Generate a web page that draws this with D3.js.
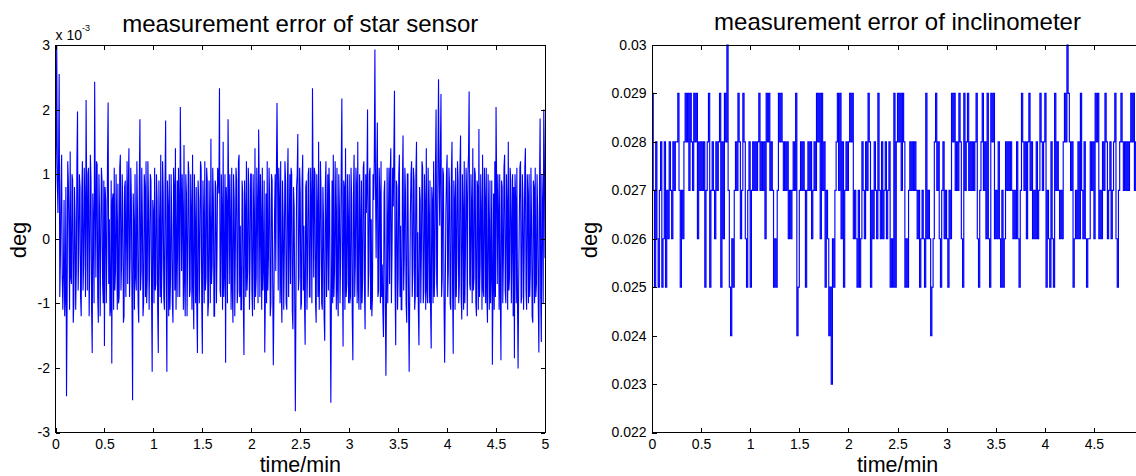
<!DOCTYPE html>
<html><head><meta charset="utf-8">
<script src="https://cdn.jsdelivr.net/npm/d3@7"></script>
<style>
body{margin:0;background:#fff;}
svg{display:block;}
text{font-family:Arial,"Liberation Sans",Helvetica,sans-serif;fill:#000;}
</style>
</head><body>
<svg id="c" width="1136" height="476"></svg>
<script>
// ---------------- data ----------------
const timeEnd = 5; // minutes
const xTicks = [0, 0.5, 1, 1.5, 2, 2.5, 3, 3.5, 4, 4.5, 5];
const xTickLabels = ["0", "0.5", "1", "1.5", "2", "2.5", "3", "3.5", "4", "4.5", "5"];

// star sensor error, in units of 1e-3 deg
const starYTicks = [-3, -2, -1, 0, 1, 2, 3];
const starYTickLabels = ["-3", "-2", "-1", "0", "1", "2", "3"];
const starErr = [
 0.7, 1.5, 3.0, 0.9, 0.4, 1.2, 2.55, -0.9, -0.3, 0.8, 1.3, -0.6, -1.1, -0.5, 0.6, -1.2, -0.9, 0.8, -2.44, -1.0, 1.2, 0.9, 0.1, -1.1, 1.35, -0.6, -0.7, 1.0, 0.9, -1.3, -1.0, 0.8, 0.3, -1.1, -0.5, 1.2, 1.97, -0.8, -0.2, 1.0,
 0.8, -0.9, -1.2, 0.7, 1.2, -0.8, -0.4, 1.1, 0.5, -0.9, 2.15, 0.6, -0.8, 1.0, 1.1, -1.2, -0.3, 1.3, 0.9, -1.1, -1.77, 0.7, 0.2, -1.0, 2.43, 0.6, -0.6, 1.2, 1.15, -0.9, -1.3, 1.0, 0.4, -1.2, -0.1, 1.1, 0.9, -0.7, -1.0, 0.9,
 -1.66, 0.8, 0.6, -1.0, -0.2, 1.2, 2.11, -0.7, 0.3, -1.2, -1.1, 0.9, -1.93, 0.6, 0.7, -1.1, 1.1, -0.8, -0.5, 1.0, 0.2, -1.1, 0.85, -1.0, -0.9, 1.1, 1.3, -0.8, -0.4, 1.0, 0.5, -1.3, -1.2, 0.8, 0.9, -0.9, 0.1, 1.2, -0.7, 0.8,
 1.4, -0.9, -0.3, 1.1, 0.6, -1.0, -2.5, 0.7, 0.2, -1.1, 1.0, -0.6, -0.8, 1.2, 0.4, -1.0, -1.3, 0.9, 1.85, -0.8, -0.5, 1.1, 0.3, -1.2, -1.0, 1.0, 0.8, -0.9, 1.2, -1.0, -0.6, 1.2, 0.5, -1.1, -0.2, 1.0, 0.9, -0.9, -2.06, 0.6,
 0.4, -1.0, 1.1, -0.8, -0.7, 1.0, 0.6, -1.1, -1.77, 0.9, 0.1, -0.9, 1.3, -1.0, -0.4, 1.2, 0.7, -0.9, -1.1, 0.8, 1.83, -0.7, -2.06, 0.9, 0.5, -1.2, 1.0, -1.1, -0.6, 1.0, 0.2, -1.0, -1.3, 1.1, 0.8, -0.8, 1.4, -1.1, -0.2, 0.9,
 -0.9, 1.1, 0.5, -0.9, 2.04, 0.8, -0.5, 1.0, 0.3, -1.1, 1.45, -0.7, -1.2, 1.0, 0.7, -1.2, -0.3, 1.2, 1.0, -0.9, -0.8, 1.0, 0.4, -1.1, 1.3, -0.8, -1.4, 1.0, 0.2, -1.0, 0.8, -1.1, -1.77, 0.9, 0.6, -1.0, -0.1, 1.2, 1.1, -1.0,
 -1.78, 0.9, 0.3, -1.0, 1.2, -0.8, -0.6, 1.1, 0.9, -1.2, -1.0, 0.9, 0.1, -1.0, 1.55, -0.7, -0.4, 1.1, 0.6, -1.2, -1.2, 0.9, 0.8, -1.0, -0.2, 1.1, 1.0, 0.7, 2.33, -0.8, -0.9, 1.0, 0.4, -1.1, 1.5, -0.9, -0.5, 1.0, -1.92, 0.8,
 0.5, -1.0, 1.85, 0.8, -0.7, 1.0, 0.2, -1.1, 1.1, -0.8, -1.3, 1.0, 0.6, -1.2, -0.1, 1.1, 0.9, -1.0, -0.8, 1.2, 1.3, -0.9, 0.2, -1.1, -1.1, 0.9, 0.7, -1.0, -1.8, 0.9, 0.4, -0.9, 1.2, -0.8, -0.5, 1.1, 0.8, -1.1, -0.3, 1.0,
 1.0, -0.8, -1.2, 1.0, 0.3, -1.1, 1.4, -0.9, -0.6, 1.1, 0.5, -1.0, 1.69, 0.8, -0.9, 1.0, 0.2, -1.1, 1.1, -0.8, -0.4, 0.9, -1.76, -0.9, 0.7, -1.0, 1.2, -0.8, -0.3, 1.1, 0.6, -1.2, -1.0, 1.0, 0.9, -0.7, -1.96, -0.9, 0.4, 1.0,
 -0.5, 1.0, 2.1, 0.9, -0.8, 1.1, 0.6, -1.0, 1.2, -0.8, -1.3, 0.9, 0.3, -1.1, -0.2, 1.2, 0.9, -1.0, -1.1, 0.8, 1.4, -0.9, 0.1, 1.0, -0.7, 1.1, 1.0, -1.1, -1.4, 0.8, 0.5, -1.0, -2.67, -0.9, 0.8, 1.0, 1.62, -0.8, -0.6, 1.1,
 0.7, -1.1, -1.0, 0.9, 1.3, -0.8, 0.2, -1.0, -1.64, 0.8, 0.9, -1.1, -0.4, 1.0, 1.1, -0.9, -0.9, 1.1, 0.5, -1.0, 2.33, 0.7, -0.6, 1.1, 1.0, -1.0, -1.3, 1.0, 0.4, -0.9, 1.5, -1.1, -0.2, 1.2, 0.7, -1.0, -1.1, 0.8, 0.3, -1.2,
 -1.58, 0.8, 1.2, -0.9, 0.1, 1.0, -0.8, 1.1, 0.6, -1.1, -2.54, -0.8, 0.9, -1.0, 1.3, -0.9, -0.5, 1.2, 0.3, -1.1, 1.1, -0.8, -1.2, 1.0, 0.5, -1.0, -0.3, 1.1, 2.17, -0.6, -1.67, 0.9, 0.8, -1.1, 1.4, -0.9, -0.7, 1.0, 0.2, -1.0,
 1.0, -1.0, -0.9, 1.1, 0.6, -1.2, -1.88, 0.7, 1.3, -0.9, -0.4, 1.1, 0.8, -1.0, 1.5, -0.8, -1.1, 1.0, 0.2, -1.1, 0.9, -1.0, -0.6, 1.1, 1.2, -0.8, -1.4, 1.0, 0.4, 0.9, 2.0, -0.9, -0.5, 1.0, 1.1, -1.1, 0.3, -1.2, -0.9, 1.0,
 0.6, 1.2, 2.93, 0.8, -0.3, 1.0, 1.8, -0.9, -0.8, 1.1, 0.7, -1.0, 1.2, -0.9, -0.4, -1.1, -1.52, 0.7, 0.9, -1.0, -2.12, -0.8, 1.1, -1.0, 0.2, 1.1, -0.7, 1.0, 1.4, -1.0, -0.2, 1.1, 0.5, 1.3, 2.29, -0.7, -1.65, 0.9, 0.8, -1.1,
 -0.6, 1.0, 1.3, -0.9, 0.2, -1.1, -1.1, 0.9, 1.6, -0.8, -0.3, 1.1, 0.7, -1.0, -1.3, 1.0, 1.0, -1.0, -2.06, -0.8, 0.4, 1.0, 1.2, -0.9, -0.5, 1.1, 0.9, -1.1, -0.9, 1.0, 1.5, -0.9, 0.1, -1.1, -1.65, 0.8, 0.6, -1.0, -0.2, 1.2,
 1.1, -1.0, -0.8, 1.0, 0.5, -1.1, 1.4, -0.8, -1.0, 1.1, 0.3, -1.0, 0.9, -1.1, -1.7, 0.8, 0.6, -1.0, 1.2, -0.9, -0.4, 1.1, 2.0, -0.7, -0.9, 1.2, 2.47, 0.9, 0.2, 1.3, 2.24, -0.9, -0.6, 1.1, 1.0, -1.0, -1.92, -0.8, 0.4, 1.0,
 1.3, -0.9, -0.5, 1.1, 0.8, -1.0, -1.1, 1.0, 1.5, -0.8, -1.78, 0.9, 0.6, -1.1, 1.1, -0.9, -0.3, 1.2, 0.9, -1.0, -0.7, 1.1, 1.6, -0.9, -1.25, 1.0, 0.4, -1.1, 1.2, -1.0, -0.2, 1.1, 0.7, -1.2, 1.0, 1.3, 2.28, -0.7, -0.8, 1.0,
 0.5, -1.0, 1.4, -0.8, -0.6, 1.1, 1.0, -1.0, -1.2, 0.9, 0.8, -1.1, 1.7, -0.9, -0.4, 1.0, 0.3, -1.1, 1.3, -0.8, -0.9, 1.1, 0.6, -1.0, 1.1, -0.9, -1.3, 1.0, 0.2, -1.1, 0.9, -1.0, -0.5, 0.9, -1.95, -0.8, 0.7, -1.1, 1.2, -0.9,
 2.04, 0.8, -0.7, 1.0, 0.4, -1.1, 1.0, -0.9, -1.88, 0.9, 0.8, -1.0, -0.3, 1.1, 1.3, -0.8, -1.0, 1.0, 0.5, -1.1, 1.5, -0.8, -0.6, 1.1, 0.9, -1.0, 0.1, 1.0, -1.2, 0.8, -1.85, 1.0, 0.6, -1.0, 1.1, -0.9, -2.01, -0.7, 0.3, 1.1,
 1.2, -1.0, -0.9, 1.0, 0.6, -1.1, -0.2, 1.1, 1.4, -0.8, -1.1, 1.0, 0.7, -1.0, 1.0, -0.9, -0.5, 1.1, 0.3, -1.2, -1.3, 0.9, 0.8, -1.0, 1.1, -0.9, -0.7, 1.0, 0.4, -1.0, -1.76, 0.8, 1.86, -0.9, -1.6, 1.0, 0.5, -1.0, 2.0, 1.2,
 -0.3
];

// inclinometer error, in units of 0.001 deg (quantised)
const inclUnit = 0.001;
const inclYTicks = [0.022, 0.023, 0.024, 0.025, 0.026, 0.027, 0.028, 0.029, 0.030];
const inclYTickLabels = ["0.022", "0.023", "0.024", "0.025", "0.026", "0.027", "0.028", "0.029", "0.03"];
const inclErr = [
 29, 27, 25, 28, 26, 25, 27, 28, 25, 26, 28, 25, 27, 26, 28, 27, 26, 28, 27, 28,
 28, 29, 27, 25, 27, 26, 28, 29, 28, 29, 27, 29, 28, 27, 29, 28, 29, 26, 28, 27,
 28, 27, 28, 25, 27, 28, 29, 25, 27, 28, 27, 26, 28, 27, 28, 29, 25, 28, 26, 29,
 28, 30, 27, 25, 24, 26, 25, 27, 28, 27, 29, 28, 26, 27, 29, 28, 26, 25, 27, 28,
 25, 27, 28, 27, 28, 27, 28, 29, 27, 28, 27, 28, 26, 29, 28, 29, 27, 28, 27, 25,
 26, 25, 27, 29, 28, 29, 28, 27, 28, 27, 28, 26, 27, 26, 27, 28, 27, 29, 24, 25,
 27, 28, 27, 28, 27, 25, 27, 28, 27, 28, 26, 27, 28, 27, 29, 28, 29, 26, 29, 27,
 28, 25, 27, 26, 24, 25, 23, 26, 25, 27, 28, 29, 27, 29, 26, 28, 25, 27, 28, 27,
 28, 29, 28, 29, 26, 27, 26, 25, 27, 25, 26, 28, 27, 26, 28, 27, 29, 28, 25, 27,
 26, 28, 27, 26, 29, 27, 26, 28, 26, 27, 28, 26, 27, 28, 25, 26, 25, 29, 25, 28,
 29, 28, 29, 27, 29, 28, 25, 26, 25, 27, 28, 27, 28, 27, 28, 27, 26, 27, 25, 26,
 27, 26, 25, 29, 26, 27, 26, 24, 25, 26, 28, 29, 27, 28, 26, 25, 27, 28, 26, 27,
 26, 25, 27, 26, 29, 28, 29, 27, 28, 27, 29, 28, 26, 25, 29, 27, 28, 29, 27, 28,
 27, 28, 27, 28, 29, 26, 25, 27, 28, 29, 27, 28, 26, 29, 26, 25, 29, 28, 29, 26,
 27, 26, 28, 26, 25, 27, 25, 26, 28, 27, 28, 27, 28, 27, 26, 27, 26, 28, 26, 25,
 27, 29, 28, 27, 28, 26, 28, 29, 27, 28, 26, 27, 26, 28, 26, 27, 29, 28, 27, 28,
 29, 25, 27, 26, 25, 28, 26, 25, 29, 27, 28, 27, 26, 27, 26, 28, 29, 28, 30, 29,
 28, 27, 28, 25, 26, 27, 26, 28, 26, 29, 27, 26, 28, 26, 25, 26, 26, 28, 27, 28,
 26, 29, 28, 29, 26, 27, 26, 28, 27, 29, 28, 26, 27, 28, 26, 27, 28, 29, 26, 25,
 27, 28, 29, 28, 27, 28, 27, 28, 27, 28, 29, 28, 29, 27, 28, 27, 28, 27, 28, 27,
 28
];

// ---------------- drawing ----------------
const W = 1136;
const svg = d3.select("#c");

const panels = [
  {
    left: 55.5, right: 545, top: 45, bottom: 432.5,
    yDomain: [-3, 3], yTicks: starYTicks, yTickLabels: starYTickLabels,
    values: starErr, curve: d3.curveLinear, lineWidth: 1.1,
    title: "measurement error of star sensor", titleY: 32,
    exponent: true, ylabelX: 25.5
  },
  {
    left: 652, right: 1143, top: 45, bottom: 432.5,
    yDomain: [0.022, 0.030], yTicks: inclYTicks, yTickLabels: inclYTickLabels,
    values: inclErr.map(v => v * inclUnit), curve: d3.curveStepAfter, lineWidth: 1.15,
    title: "measurement error of inclinometer", titleY: 29.5,
    exponent: false, ylabelX: 596.5
  }
];

panels.forEach(p => {
  const x = d3.scaleLinear().domain([0, timeEnd]).range([p.left, p.right]);
  const y = d3.scaleLinear().domain(p.yDomain).range([p.bottom, p.top]);
  const n = p.values.length;
  const times = d3.range(n).map(i => i * timeEnd / (n - 1));

  const g = svg.append("g");

  // data line
  g.append("path")
    .datum(p.values)
    .attr("fill", "none")
    .attr("stroke", "#0000ff")
    .attr("stroke-width", p.lineWidth)
    .attr("stroke-linejoin", "miter")
    .attr("d", d3.line().curve(p.curve).x((d, i) => x(times[i])).y(d => y(d)));

  // bottom axis with labels (ticks inward)
  const ax = g.append("g").attr("transform", `translate(0,${p.bottom})`)
    .call(d3.axisBottom(x).tickValues(xTicks)
      .tickFormat((d, i) => (x(d) < W - 4 ? xTickLabels[i] : ""))
      .tickSizeInner(-4.5).tickSizeOuter(0).tickPadding(6.5));
  // top axis ticks
  const axT = g.append("g").attr("transform", `translate(0,${p.top})`)
    .call(d3.axisTop(x).tickValues(xTicks).tickFormat("")
      .tickSizeInner(-4.5).tickSizeOuter(0));
  // left axis with labels
  const ay = g.append("g").attr("transform", `translate(${p.left},0)`)
    .call(d3.axisLeft(y).tickValues(p.yTicks)
      .tickFormat((d, i) => p.yTickLabels[i])
      .tickSizeInner(-4.5).tickSizeOuter(0).tickPadding(5.5));
  // right axis ticks
  const ayR = g.append("g").attr("transform", `translate(${p.right},0)`)
    .call(d3.axisRight(y).tickValues(p.yTicks).tickFormat("")
      .tickSizeInner(-4.5).tickSizeOuter(0));

  [ax, axT, ay, ayR].forEach(a => {
    a.select(".domain").remove();
    a.selectAll(".tick line").attr("stroke", "#000").attr("shape-rendering", "crispEdges");
    a.selectAll("text").attr("font-size", 14).attr("fill", "#000")
      .style("font-family", 'Arial,"Liberation Sans",Helvetica,sans-serif');
  });

  // box
  g.append("rect")
    .attr("x", p.left).attr("y", p.top)
    .attr("width", p.right - p.left).attr("height", p.bottom - p.top)
    .attr("fill", "none").attr("stroke", "#000").attr("stroke-width", 1)
    .attr("shape-rendering", "crispEdges");

  // title
  g.append("text")
    .attr("x", (p.left + p.right) / 2).attr("y", p.titleY)
    .attr("text-anchor", "middle").attr("font-size", 24)
    .text(p.title);

  // x label
  g.append("text")
    .attr("x", (p.left + p.right) / 2).attr("y", 471.5)
    .attr("text-anchor", "middle").attr("font-size", 21.5)
    .text("time/min");

  // y label
  g.append("text")
    .attr("transform", `translate(${p.ylabelX},240) rotate(-90)`)
    .attr("text-anchor", "middle").attr("font-size", 22)
    .text("deg");

  if (p.exponent) {
    const t = g.append("text").attr("x", p.left).attr("y", 39.5).attr("font-size", 14);
    t.append("tspan").text("x 10");
    t.append("tspan").attr("font-size", 9).attr("dy", -8.5).text("-3");
  }
});
</script>
</body></html>
